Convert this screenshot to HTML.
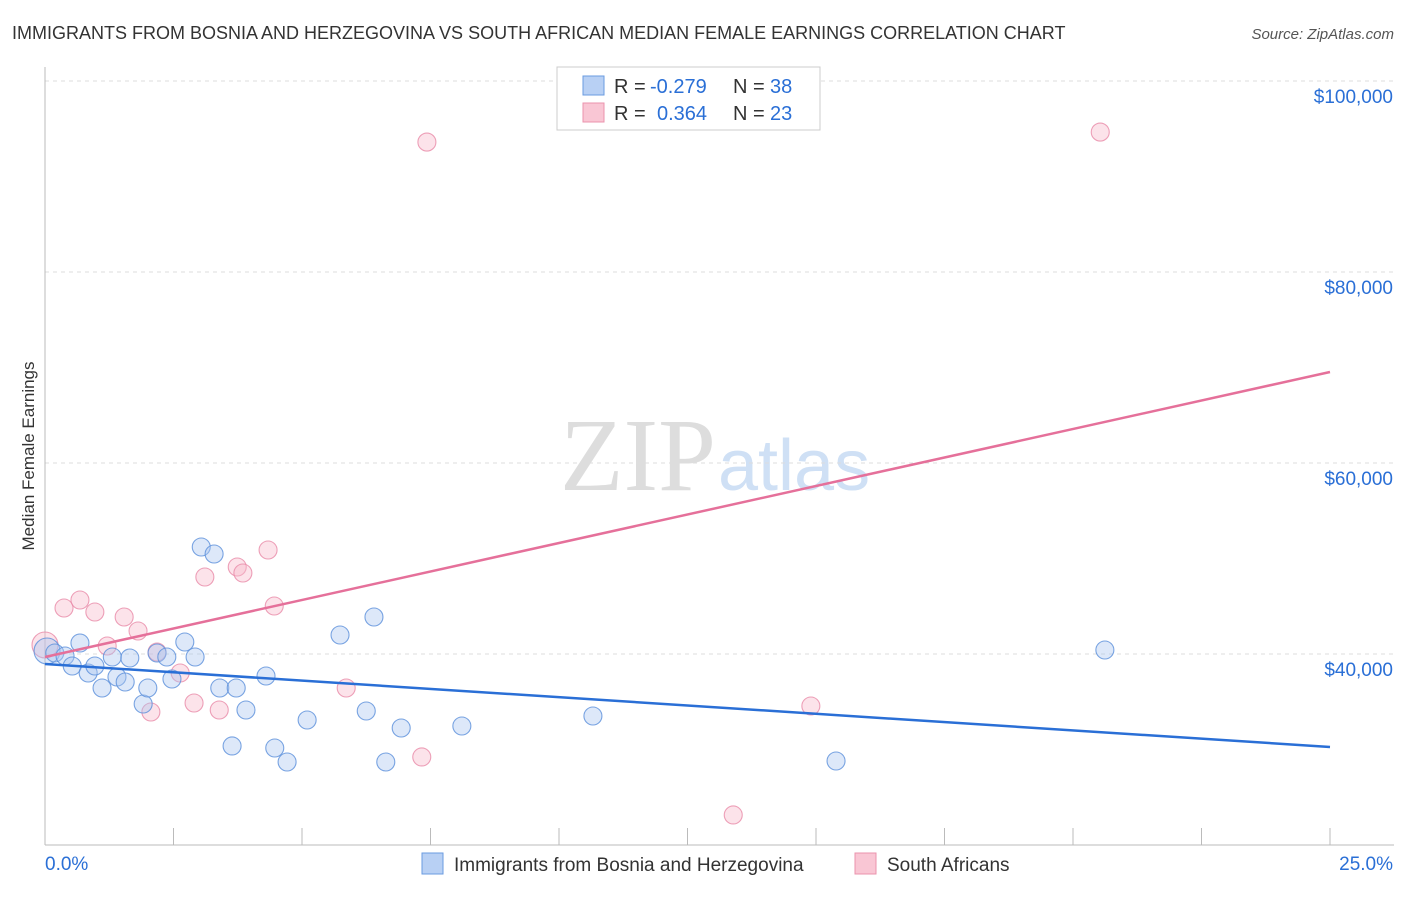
<!DOCTYPE html>
<html><head><meta charset="utf-8"><style>
body{margin:0;background:#fff;font-family:"Liberation Sans",sans-serif}
</style></head><body>
<svg width="1406" height="892" xmlns="http://www.w3.org/2000/svg" id="chart">
<text x="12" y="39" font-size="18" fill="#333">IMMIGRANTS FROM BOSNIA AND HERZEGOVINA VS SOUTH AFRICAN MEDIAN FEMALE EARNINGS CORRELATION CHART</text>
<text x="1394" y="39" font-size="15" fill="#555" font-style="italic" text-anchor="end">Source: ZipAtlas.com</text>
<text x="716" y="490" font-size="104" fill="#ddd" text-anchor="end" font-family="Liberation Serif,serif">ZIP</text>
<text x="718" y="490" font-size="72" fill="#cfe0f5">atlas</text>
<g id="grid"></g><g id="axes"></g><g id="marks"></g>
<text transform="translate(34,456) rotate(-90)" font-size="17" fill="#333" text-anchor="middle">Median Female Earnings</text>
<g>
<rect x="557" y="67" width="263" height="63" fill="#fff" stroke="#ccc"/>
<rect x="583" y="76" width="21" height="19" fill="#b8d0f4" stroke="#6a9be0"/>
<rect x="583" y="103" width="21" height="19" fill="#f9c6d4" stroke="#eb93ad"/>
<g font-size="20" fill="#333">
<text x="614" y="93">R =</text><text x="650" y="93" fill="#2a6fd6">-0.279</text>
<text x="733" y="93">N =</text><text x="770" y="93" fill="#2a6fd6">38</text>
<text x="614" y="120">R =</text><text x="657" y="120" fill="#2a6fd6">0.364</text>
<text x="733" y="120">N =</text><text x="770" y="120" fill="#2a6fd6">23</text>
</g>
</g>
<g>
<rect x="422" y="853" width="21" height="21" fill="#b8d0f4" stroke="#6a9be0"/>
<text x="454" y="871" font-size="19" fill="#333">Immigrants from Bosnia and Herzegovina</text>
<rect x="855" y="853" width="21" height="21" fill="#f9c6d4" stroke="#eb93ad"/>
<text x="887" y="871" font-size="19" fill="#333">South Africans</text>
</g>
</svg>
<script>
const xTicks=[0,2.5,5,7.5,10,12.5,15,17.5,20,22.5,25];
const yTicks=[40000,60000,80000,100000];
const yTickLabels=["$40,000","$60,000","$80,000","$100,000"];
const blueX=[0.04,0.19,0.39,0.53,0.68,0.84,0.97,1.11,1.31,1.40,1.56,1.65,1.91,2.00,2.18,2.37,2.47,2.72,2.92,3.04,3.29,3.40,3.64,3.72,3.91,4.30,4.47,4.71,5.10,5.74,6.25,6.40,6.63,6.93,8.11,10.66,15.39,20.62];
const blueY=[40314,40105,39791,38744,41152,38011,38744,36440,39686,37592,37068,39581,34765,36440,40105,39686,37382,41256,39686,51203,50470,36440,30368,36440,34137,37697,30158,28692,33090,41989,34032,43874,28692,32252,32461,33508,28797,40419];
const pinkX=[0,0.37,0.68,0.97,1.21,1.54,1.81,2.06,2.18,2.63,2.90,3.11,3.39,3.74,3.85,4.34,4.46,5.86,7.33,7.43,13.39,14.90,20.53];
const pinkY=[40942,44816,45654,44397,40838,43874,42408,33927,40209,38011,34870,48062,34137,49109,48481,50889,45026,36440,29216,93606,23143,34556,94653];
const blueTrend=[38953,30263];
const pinkTrend=[39686,69529];
const X=v=>45+v/25*1285;
const Y=v=>654-(v-40000)/20000*191;
const NS="http://www.w3.org/2000/svg";
function mk(t,a,p){const e=document.createElementNS(NS,t);for(const k in a)e.setAttribute(k,a[k]);p.appendChild(e);return e;}
const grid=document.getElementById('grid'),axes=document.getElementById('axes'),marks=document.getElementById('marks');
yTicks.forEach((v,i)=>{
const l=mk('line',{x1:45,x2:1394,y1:Y(v),y2:Y(v),stroke:'#ddd','stroke-dasharray':'4,4'},grid);


const t=mk('text',{x:1393,y:Y(v)+22,'font-size':19,fill:'#2a6fd6','text-anchor':'end'},axes);
t.textContent=yTickLabels[i];


});
const ax=mk('line',{x1:45,x2:45,y1:67,y2:845,stroke:'#bbb'},axes);


const bx=mk('line',{x1:45,x2:1394,y1:845,y2:845,stroke:'#bbb'},axes);


xTicks.forEach(v=>{const t=mk('line',{x1:X(v),x2:X(v),y1:828,y2:845,stroke:'#bbb'},axes);

});
const l0=mk('text',{x:45,y:870,'font-size':19,fill:'#2a6fd6'},axes);l0.textContent=xTicks[0].toFixed(1)+'%';


const l1=mk('text',{x:1393,y:870,'font-size':19,fill:'#2a6fd6','text-anchor':'end'},axes);l1.textContent=xTicks[xTicks.length-1].toFixed(1)+'%';


function pts(xs,ys,fill,stroke,name){xs.forEach((x,i)=>{const c=mk('circle',{cx:X(x),cy:Y(ys[i]),r:i===0?13:9,fill:fill,'fill-opacity':0.4,stroke:stroke,'stroke-width':1.1,'stroke-opacity':0.8},marks);

});}
pts(pinkX,pinkY,'#f7b8cb','#e98aa8','south-africans-point');
pts(blueX,blueY,'#aac6ef','#5a8fdb','bosnia-point');
const bl=mk('line',{x1:X(0),y1:Y(blueTrend[0]),x2:X(25),y2:Y(blueTrend[1]),stroke:'#2a6fd6','stroke-width':2.5},marks);


const pl=mk('line',{x1:X(0),y1:Y(pinkTrend[0]),x2:X(25),y2:Y(pinkTrend[1]),stroke:'#e5709a','stroke-width':2.5},marks);


</script>
</body></html>
